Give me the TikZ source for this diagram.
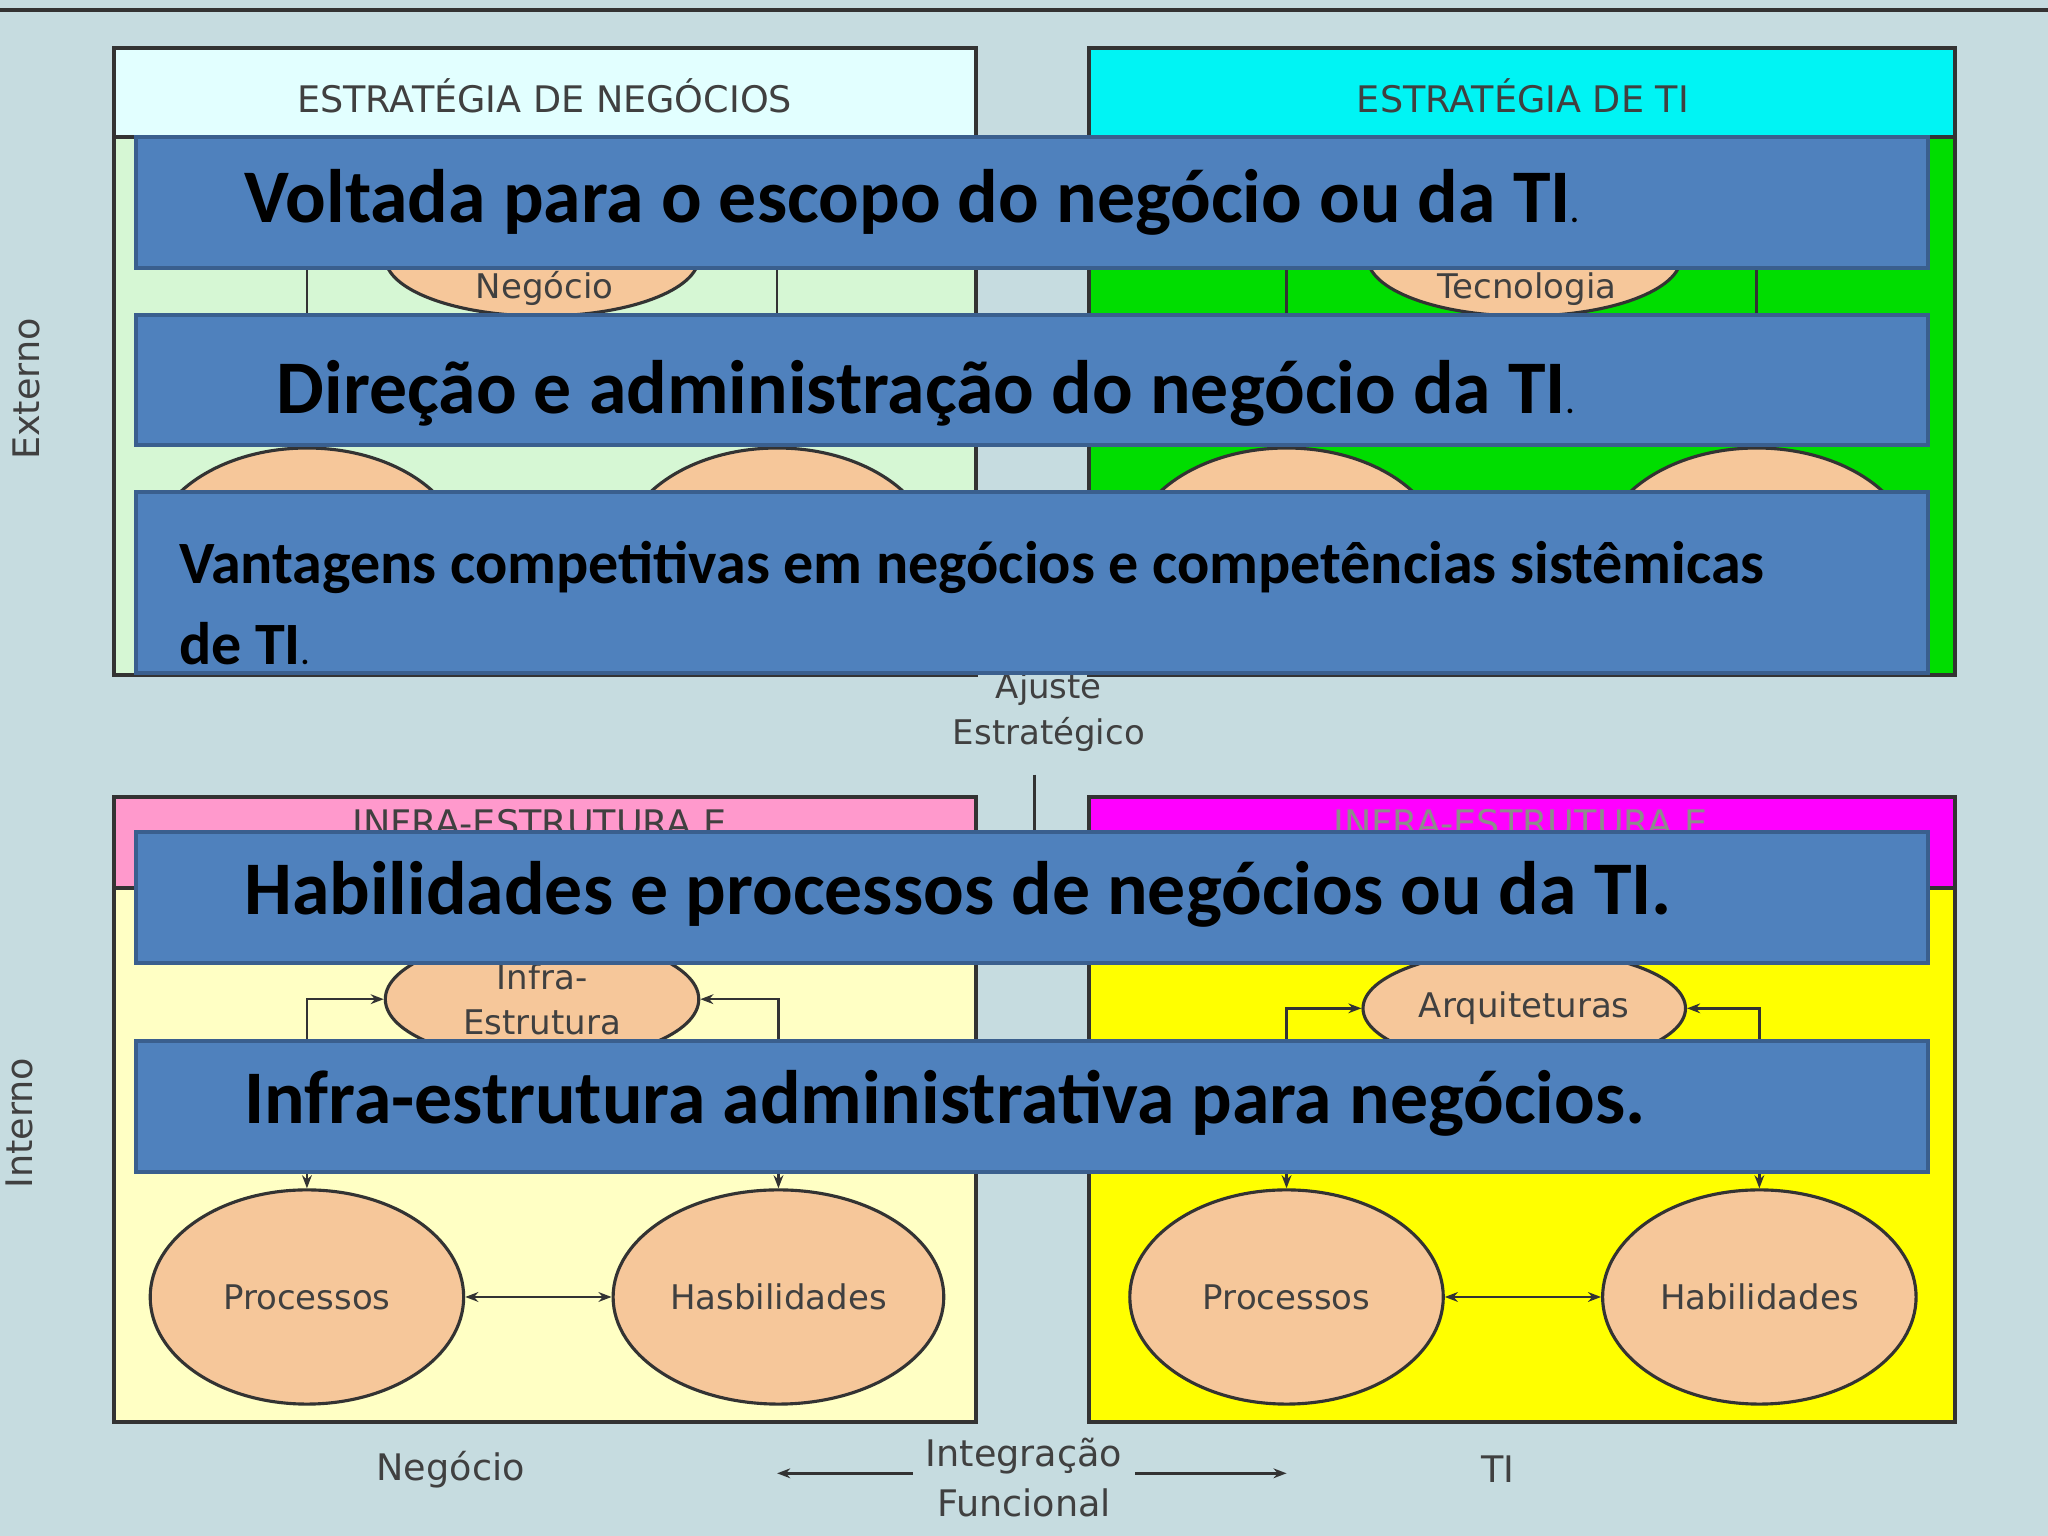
\documentclass[tikz,border=0pt]{standalone}
\usepackage{fontspec}
\setmainfont{DejaVu Sans}
\newfontfamily\bannerfont{Carlito}
\usetikzlibrary{shapes.geometric,arrows.meta}
\definecolor{bg}{HTML}{C6DCE0}
\definecolor{bnr}{HTML}{4F81BD}
\definecolor{bnrb}{HTML}{3A5F8E}
\definecolor{elf}{HTML}{F6C79A}
\definecolor{hdA}{HTML}{E2FFFF}
\definecolor{bdA}{HTML}{D6F7D4}
\definecolor{hdB}{HTML}{00F4F4}
\definecolor{bdB}{HTML}{00DD00}
\definecolor{hdC}{HTML}{FF99CC}
\definecolor{bdC}{HTML}{FFFFC4}
\definecolor{hdD}{HTML}{FF00FF}
\definecolor{bdD}{HTML}{FFFF00}
\definecolor{ln}{HTML}{333333}
\tikzset{
  boxhd/.style={draw=ln,line width=1.5pt},
  el/.style={ellipse,draw=ln,line width=1.2pt,fill=elf,font=\fontsize{13}{15}\selectfont,text=black!75},
  banner/.style={draw=bnrb,line width=1.5pt,fill=bnr},
  btext/.style={anchor=west,font=\bannerfont\bfseries\fontsize{29}{34}\selectfont,text=black},
  small/.style={font=\fontsize{14}{16}\selectfont,text=black!75},
  conn/.style={draw=ln,line width=1pt,{Stealth[length=5pt]}-{Stealth[length=5pt]}},
  arr/.style={draw=ln,line width=1pt,-{Stealth[length=5pt]}}
}
\begin{document}
\begin{tikzpicture}[x=0.5pt,y=-0.5pt]
\fill[bg] (0,0) rectangle (1568,1176);
\useasboundingbox (0,0) rectangle (1568,1176);
\draw[ln,line width=1.5pt] (0,8) -- (1568,8);
% top left
\filldraw[boxhd,fill=bdA] (87,37) rectangle (747,517);
\filldraw[boxhd,fill=hdA] (87,37) rectangle (747,105);
\node[small] (h1) at (417,73) {ESTRATÉGIA DE NEGÓCIOS};
% top right
\filldraw[boxhd,fill=bdB] (834,37) rectangle (1497,517);
\filldraw[boxhd,fill=hdB] (834,37) rectangle (1497,105);
\node[small] (h2) at (1166,73) {ESTRATÉGIA DE TI};
% top ellipses
\node[el,minimum width=120pt,minimum height=45pt] (neg) at (415,197) {};
\node[small,font=\fontsize{13}{15}\selectfont] (negt) at (417,221) {Negócio};
\node[el,minimum width=120pt,minimum height=82pt] (dl) at (235,425) {};
\node[el,minimum width=120pt,minimum height=82pt] (dr) at (595,425) {};
\draw[conn] (neg.west) -| (dl.north);
\draw[conn] (neg.east) -| (dr.north);
\node[el,minimum width=120pt,minimum height=45pt] (tec) at (1167,197) {};
\node[small,font=\fontsize{13}{15}\selectfont] (tect) at (1169,221) {Tecnologia};
\node[el,minimum width=120pt,minimum height=82pt] (tl) at (985,425) {};
\node[el,minimum width=120pt,minimum height=82pt] (tr) at (1345,425) {};
\draw[conn] (tec.west) -| (tl.north);
\draw[conn] (tec.east) -| (tr.north);
% middle
\node[small,align=center,font=\fontsize{13}{17.5}\selectfont] (aj) at (803,545) {Ajuste\\Estratégico};
\coordinate (v1) at (792,593);
\coordinate (v2) at (792,637);
\draw[ln,line width=1pt] (v1) -- (v2);
% bottom left
\filldraw[boxhd,fill=bdC] (87,610) rectangle (747,1089);
\filldraw[boxhd,fill=hdC] (87,610) rectangle (747,680);
\node[small] (h3) at (413,630) {INFRA-ESTRUTURA E};
\filldraw[boxhd,fill=bdD] (834,610) rectangle (1497,1089);
\filldraw[boxhd,fill=hdD] (834,610) rectangle (1497,680);
\node[small,text=black!45] (h4) at (1164,630) {INFRA-ESTRUTURA E};
\node[el,minimum width=120pt,minimum height=45pt,align=center,font=\fontsize{13}{17}\selectfont] (inf) at (415,765) {Infra-\\Estrutura};
\node[el,minimum width=120pt,minimum height=82pt] (p1) at (235,993) {Processos};
\node[el,minimum width=120pt,minimum height=82pt] (h1e) at (596,993) {Hasbilidades};
\draw[conn] (inf.west) -| (p1.north);
\draw[conn] (inf.east) -| (h1e.north);
\draw[conn] (p1) -- (h1e);
\node[el,minimum width=120pt,minimum height=45pt] (arq) at (1167,772) {Arquiteturas};
\node[el,minimum width=120pt,minimum height=82pt] (p2) at (985,993) {Processos};
\node[el,minimum width=120pt,minimum height=82pt] (h2e) at (1347,993) {Habilidades};
\draw[conn] (arq.west) -| (p2.north);
\draw[conn] (arq.east) -| (h2e.north);
\draw[conn] (p2) -- (h2e);
% bottom labels
\node[small] (bn) at (345,1125) {Negócio};
\node[small,align=center,font=\fontsize{14}{19}\selectfont] (ifn) at (784,1131) {Integração\\Funcional};
\node[small] (bti) at (1147,1125) {TI};
\coordinate (aL) at (595,1128);
\coordinate (aR) at (985,1128);
\draw[arr] (ifn.west |- aL) ++(-3,0) -- (aL);
\draw[arr] (ifn.east |- aR) ++(3,0) -- (aR);
\node[small,rotate=90] (ext) at (20,298) {Externo};
\node[small,rotate=90] (int) at (15,860) {Interno};
% banners
\filldraw[banner] (104,105) rectangle (1476,205);
\node[btext] (b1) at (180,155) {Voltada para o escopo do negócio ou da TI{\fontsize{12}{12}\selectfont.}};
\filldraw[banner] (104,241) rectangle (1476,341);
\node[btext] (b2) at (205,301) {Direção e administração do negócio da TI{\fontsize{12}{12}\selectfont.}};
\filldraw[banner] (104,377) rectangle (1476,515);
\node[btext,align=left,font=\bannerfont\bfseries\fontsize{23}{31}\selectfont] (b3) at (130,462) {Vantagens competitivas em negócios e competências sistêmicas\\de TI{\fontsize{12}{12}\selectfont.}};
\filldraw[banner] (104,637) rectangle (1476,737);
\node[btext] (b4) at (180,685) {Habilidades e processos de negócios ou da TI.};
\filldraw[banner] (104,797) rectangle (1476,897);
\node[btext] (b5) at (180,845) {Infra-estrutura administrativa para negócios.};
\end{tikzpicture}
\end{document}
